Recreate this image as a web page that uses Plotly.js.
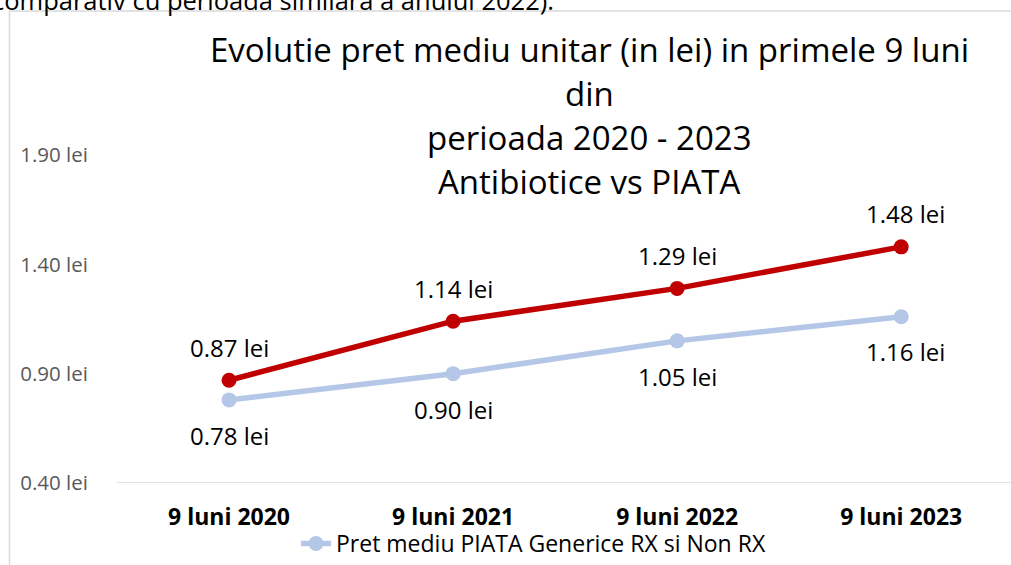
<!DOCTYPE html>
<html>
<head>
<meta charset="utf-8">
<script src="https://cdn.plot.ly/plotly-3.0.1.min.js"></script>
<style>html,body{margin:0;padding:0;background:#fff;}#chart{width:1011px;height:565px;}</style>
</head>
<body>
<div id="chart"></div>
<script>
const categories = ["9 luni 2020", "9 luni 2021", "9 luni 2022", "9 luni 2023"];
const antibioticeValues = [0.87, 1.14, 1.29, 1.48];
const piataValues = [0.78, 0.90, 1.05, 1.16];
const yTickValues = [0.40, 0.90, 1.40, 1.90];
const yTickLabels = ["0.40 lei", "0.90 lei", "1.40 lei", "1.90 lei"];
const antibioticeName = "Pret mediu Antibiotice";
const piataName = "Pret mediu PIATA Generice RX si Non RX";
const titleLines = ["Evolutie pret mediu unitar (in lei) in primele 9 luni", "din", "perioada 2020 - 2023", "Antibiotice vs PIATA"];
const headerText = "comparativ cu perioada similara a anului 2022):";

const FONT = "'Open Sans', sans-serif";
const W = 1011, H = 565;
const L = 117, T = 155, B = 0;
const AXIS_BOTTOM = 483;
const paperH = H - T - B;
const py = p => (H - B - p) / paperH;
const px = p => (p - L) / (W - L);

const traces = [
  {
    x: categories, y: piataValues, name: piataName, type: "scatter", mode: "lines+markers",
    line: {color: "#B4C7E7", width: 5.5}, marker: {color: "#B4C7E7", size: 15},
    showlegend: true, hoverinfo: "none"
  },
  {
    x: categories, y: antibioticeValues, name: antibioticeName, type: "scatter", mode: "lines+markers",
    line: {color: "#C00000", width: 5.5}, marker: {color: "#C00000", size: 15},
    showlegend: false, hoverinfo: "none"
  }
];

const annotations = [];
antibioticeValues.forEach((v, i) => {
  annotations.push({x: categories[i], y: v, xref: "x", yref: "y", text: v.toFixed(2) + " lei",
    showarrow: false, yshift: 33, xshift: i === 3 ? 4 : 0,
    font: {family: FONT, size: 24, color: "#000"}});
});
piataValues.forEach((v, i) => {
  annotations.push({x: categories[i], y: v, xref: "x", yref: "y", text: v.toFixed(2) + " lei",
    showarrow: false, yshift: i === 3 ? -35 : -36, xshift: i === 3 ? 4 : 0,
    font: {family: FONT, size: 24, color: "#000"}});
});
const titleCenters = [49, 93, 137, 182];
titleLines.forEach((t, i) => {
  annotations.push({x: px(589), y: py(titleCenters[i]), xref: "paper", yref: "paper", xanchor: "center", yanchor: "middle",
    text: t, showarrow: false, font: {family: FONT, size: 33, color: "#000"}});
});
annotations.push({x: px(-10), y: py(19), xref: "paper", yref: "paper", xanchor: "left", yanchor: "bottom",
  text: headerText, showarrow: false, font: {family: FONT, size: 25.5, color: "#000"}});

const layout = {
  width: W, height: H,
  margin: {l: L, r: 0, t: T, b: B, pad: 0},
  paper_bgcolor: "#fff", plot_bgcolor: "rgba(0,0,0,0)",
  xaxis: {type: "category", range: [-0.5, 3.49], showgrid: false, zeroline: false,
    showline: false, ticks: "", ticklabelstandoff: 18, automargin: false,
    tickfont: {family: FONT, size: 23, color: "#000", weight: "bold"}, fixedrange: true},
  yaxis: {domain: [py(AXIS_BOTTOM), 1], range: [0.40, 1.90], tickvals: yTickValues, ticktext: yTickLabels, showgrid: false,
    zeroline: false, showline: false, ticks: "", ticklabelstandoff: 28, automargin: false,
    tickfont: {family: FONT, size: 20.5, color: "#595959"}, fixedrange: true},
  showlegend: true,
  legend: {orientation: "h", x: px(296), xanchor: "left", y: 0, yanchor: "bottom",
    font: {family: FONT, size: 23, color: "#000"}, bgcolor: "rgba(0,0,0,0)"},
  annotations: annotations,
  shapes: [
    {type: "line", xref: "paper", yref: "y", x0: 0, x1: 1.01, y0: 0.40, y1: 0.40, line: {color: "#D9D9D9", width: 1.5}},
    {type: "line", xref: "paper", yref: "paper", x0: px(9.5), x1: px(9.5), y0: py(11), y1: py(570), line: {color: "#D9D9D9", width: 1.5}},
    {type: "line", xref: "paper", yref: "paper", x0: px(9.5), x1: 1.01, y0: py(11), y1: py(11), line: {color: "#D9D9D9", width: 1.5}}
  ]
};

Plotly.newPlot("chart", traces, layout, {displayModeBar: false, staticPlot: true});
</script>
</body>
</html>
